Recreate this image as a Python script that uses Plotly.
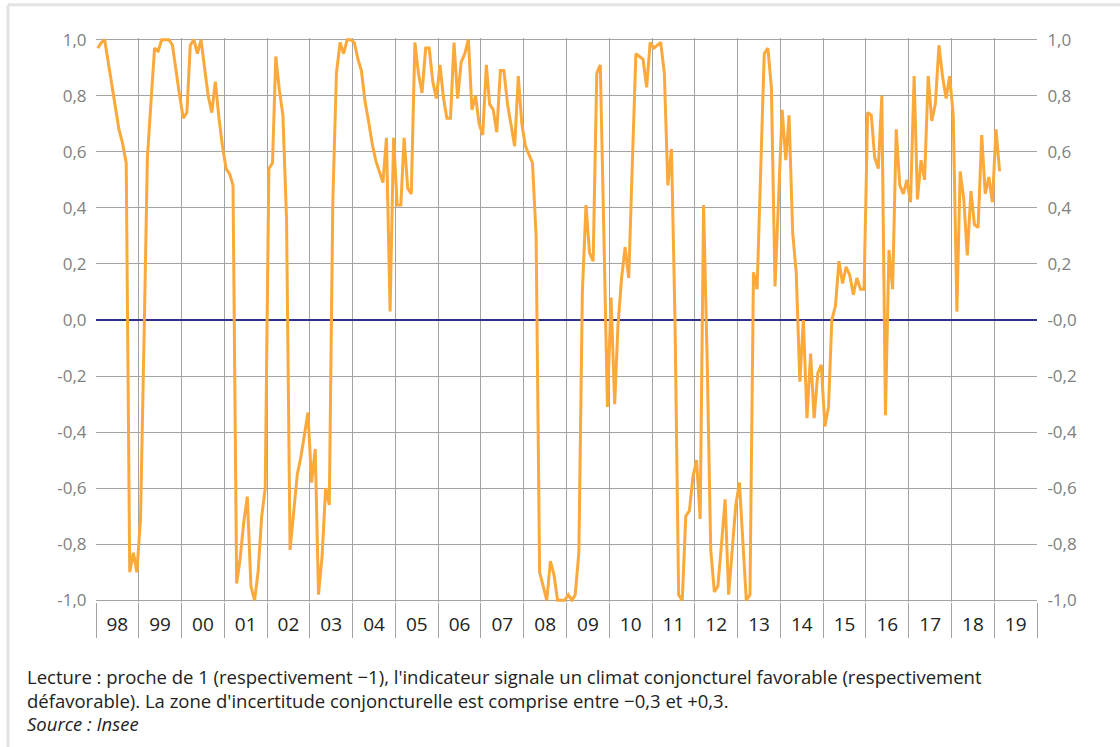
import plotly.graph_objects as go
import pandas as pd

# Monthly values of the indicator (Jan 1998 - Feb 2019)
v1998 = [0.97, 0.99, 1.0, 0.92, 0.84, 0.76, 0.68, 0.63, 0.56, -0.90, -0.83, -0.90]
v1999 = [-0.71, -0.05, 0.58, 0.78, 0.97, 0.96, 1.0, 1.0, 1.0, 0.98, 0.88, 0.80]
v2000 = [0.72, 0.74, 0.98, 1.0, 0.95, 1.0, 0.90, 0.80, 0.74, 0.85, 0.72, 0.62]
v2001 = [0.54, 0.52, 0.48, -0.94, -0.85, -0.72, -0.63, -0.95, -1.0, -0.90, -0.70, -0.60]
v2002 = [0.54, 0.56, 0.94, 0.82, 0.73, 0.36, -0.82, -0.68, -0.55, -0.49, -0.40, -0.33]
v2003 = [-0.58, -0.46, -0.98, -0.84, -0.60, -0.66, 0.42, 0.88, 0.99, 0.95, 1.0, 1.0]
v2004 = [0.99, 0.93, 0.89, 0.78, 0.71, 0.63, 0.57, 0.53, 0.49, 0.65, 0.03, 0.65]
v2005 = [0.41, 0.41, 0.65, 0.47, 0.45, 0.99, 0.88, 0.81, 0.97, 0.97, 0.85, 0.79]
v2006 = [0.91, 0.79, 0.72, 0.72, 0.99, 0.79, 0.92, 0.95, 1.0, 0.75, 0.80, 0.70]
v2007 = [0.66, 0.91, 0.77, 0.75, 0.67, 0.89, 0.89, 0.77, 0.69, 0.62, 0.87, 0.70]
v2008 = [0.62, 0.59, 0.56, 0.30, -0.90, -0.95, -1.0, -0.86, -0.91, -1.0, -1.0, -1.0]
v2009 = [-0.98, -1.0, -0.98, -0.83, 0.10, 0.41, 0.24, 0.21, 0.88, 0.91, 0.30, -0.31]
v2010 = [0.08, -0.30, -0.02, 0.15, 0.26, 0.15, 0.55, 0.95, 0.94, 0.93, 0.83, 0.99]
v2011 = [0.97, 0.98, 0.99, 0.88, 0.48, 0.61, 0.0, -0.98, -1.0, -0.70, -0.68, -0.56]
v2012 = [-0.50, -0.71, 0.41, -0.15, -0.82, -0.97, -0.95, -0.80, -0.64, -0.98, -0.80, -0.66]
v2013 = [-0.58, -0.81, -1.0, -0.98, 0.17, 0.11, 0.55, 0.95, 0.97, 0.83, 0.12, 0.45]
v2014 = [0.75, 0.57, 0.73, 0.31, 0.17, -0.22, 0.0, -0.35, -0.12, -0.35, -0.19, -0.16]
v2015 = [-0.38, -0.31, 0.0, 0.05, 0.21, 0.13, 0.19, 0.16, 0.09, 0.15, 0.11, 0.11]
v2016 = [0.74, 0.73, 0.58, 0.54, 0.80, -0.34, 0.25, 0.11, 0.68, 0.48, 0.45, 0.50]
v2017 = [0.42, 0.87, 0.43, 0.57, 0.50, 0.87, 0.71, 0.77, 0.98, 0.87, 0.79, 0.87]
v2018 = [0.73, 0.03, 0.53, 0.43, 0.23, 0.46, 0.34, 0.33, 0.66, 0.45, 0.51, 0.42]
v2019 = [0.68, 0.53]

values = (v1998 + v1999 + v2000 + v2001 + v2002 + v2003 + v2004 + v2005 + v2006
          + v2007 + v2008 + v2009 + v2010 + v2011 + v2012 + v2013 + v2014 + v2015
          + v2016 + v2017 + v2018 + v2019)
start_month = "1998-01-01"
dates = pd.date_range(start_month, periods=len(values), freq="MS") + pd.Timedelta(days=15)

x_range = ["1998-01-01", "2020-01-01"]
y_ticks = [1.0, 0.8, 0.6, 0.4, 0.2, 0.0, -0.2, -0.4, -0.6, -0.8, -1.0]
left_labels = ["1,0", "0,8", "0,6", "0,4", "0,2", "0,0", "-0,2", "-0,4", "-0,6", "-0,8", "-1,0"]
right_labels = ["1,0", "0,8", "0,6", "0,4", "0,2", "-0,0", "-0,2", "-0,4", "-0,6", "-0,8", "-1,0"]

caption1 = "Lecture : proche de 1 (respectivement \u22121), l'indicateur signale un climat conjoncturel favorable (respectivement"
caption2 = "défavorable). La zone d'incertitude conjoncturelle est comprise entre \u22120,3 et +0,3."
source = "<i>Source : Insee</i>"

GRID = "#a3a3a3"
ORANGE = "#FBA93B"
NAVY = "#2E3188"
LABEL = "#7f7f7f"
FONT = "Open Sans"

W, H = 1120, 747
PL, PR = 96, 1037          # plot left/right px
PAD = 0.006                # y-range padding so the line at +/-1 isn't clipped
Y_TOP, Y_BOT = 40, 600     # px of +1 and -1
unit = (Y_BOT - Y_TOP) / 2
top_px = Y_TOP - PAD * unit
bot_px = Y_BOT + PAD * unit

fig = go.Figure()
fig.add_trace(go.Scatter(x=dates, y=values, mode="lines",
                         line=dict(color=ORANGE, width=3), showlegend=False,
                         hoverinfo="x+y"))
fig.add_trace(go.Scatter(x=dates, y=values, mode="lines", xaxis="x2", yaxis="y2",
                         line=dict(color="rgba(0,0,0,0)", width=0), showlegend=False,
                         hoverinfo="skip"))

fig.update_layout(
    width=W, height=H,
    margin=dict(l=PL, r=W - PR, t=top_px, b=H - bot_px, autoexpand=False),
    paper_bgcolor="white", plot_bgcolor="white",
    font=dict(family=FONT, color=LABEL, size=17),
    xaxis=dict(type="date", range=x_range, tick0="1998-01-01", dtick="M12",
               showgrid=True, gridcolor=GRID, gridwidth=1,
               ticks="outside", ticklen=37 - PAD * unit, tickcolor=GRID, tickwidth=1,
               showticklabels=False, showline=False, zeroline=False),
    xaxis2=dict(type="date", range=x_range, overlaying="x", anchor="y", side="bottom",
                matches="x", tick0="1998-01-01", dtick="M12", ticklabelmode="period",
                tickformat="%y", ticks="outside", ticklen=5, tickcolor="rgba(0,0,0,0)",
                showgrid=False, showline=False, zeroline=False,
                tickfont=dict(family=FONT, size=19, color="#222222")),
    yaxis=dict(range=[-1 - PAD, 1 + PAD], tickvals=y_ticks, ticktext=left_labels,
               showgrid=True, gridcolor=GRID, gridwidth=1,
               zeroline=True, zerolinecolor=NAVY, zerolinewidth=2,
               showline=False, ticks="outside", ticklen=5, tickcolor="rgba(0,0,0,0)",
               tickfont=dict(family=FONT, size=17, color=LABEL)),
    yaxis2=dict(range=[-1 - PAD, 1 + PAD], overlaying="y", anchor="x", side="right",
                tickvals=y_ticks, ticktext=right_labels, showgrid=False, zeroline=False,
                showline=False, ticks="outside", ticklen=6, tickcolor="rgba(0,0,0,0)",
                tickfont=dict(family=FONT, size=17, color=LABEL)),
)

def px_x(px):
    return (px - PL) / (PR - PL)

def px_y(py):
    return (bot_px - py) / (bot_px - top_px)

for txt, py in [(caption1, 676), (caption2, 700), (source, 723)]:
    fig.add_annotation(text=txt, xref="paper", yref="paper", x=px_x(25), y=px_y(py),
                       xanchor="left", yanchor="middle", showarrow=False,
                       font=dict(family=FONT, size=18.5, color="#222222"))

# Light frame around the figure (left and top edges)
fig.add_shape(type="line", xref="paper", yref="paper", x0=px_x(8), x1=px_x(8),
              y0=px_y(H), y1=px_y(5), line=dict(color="#e3e3e3", width=3), layer="below")
fig.add_shape(type="line", xref="paper", yref="paper", x0=px_x(8), x1=px_x(W),
              y0=px_y(5), y1=px_y(5), line=dict(color="#e3e3e3", width=3), layer="below")

fig.write_html("out.html", config={"displayModeBar": False},
               post_script="document.body.style.margin='0';")
